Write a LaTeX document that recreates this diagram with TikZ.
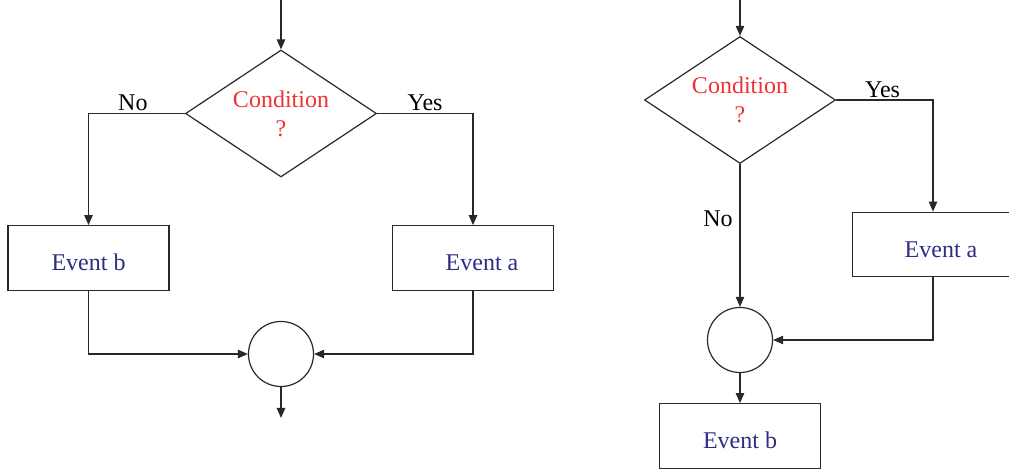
\documentclass[tikz,border=0pt]{standalone}
\usepackage{fontspec}
\setmainfont{Liberation Serif}
\usetikzlibrary{shapes.geometric, arrows.meta}
\definecolor{condred}{RGB}{238,50,50}
\definecolor{eventblue}{RGB}{45,45,135}
\definecolor{linegray}{RGB}{40,40,40}
\tikzset{
  flow/.style={draw=linegray, line width=0.6pt, -{Triangle[length=5pt,width=4.2pt]}},
  condbox/.style={diamond, draw=linegray, line width=0.6pt, inner sep=0pt, aspect=1.5,
    minimum width=95.5pt, minimum height=63.5pt, align=center, text=condred,
    font=\fontsize{12}{14.5}\selectfont},
  eventbox/.style={rectangle, draw=linegray, line width=0.6pt, minimum width=80.5pt,
    minimum height=32.3pt, text height=13pt, text depth=0pt, text=eventblue,
    font=\fontsize{12}{14.5}\selectfont},
  joincirc/.style={circle, draw=linegray, line width=0.6pt, minimum size=32.5pt, inner sep=0pt},
  answer/.style={font=\fontsize{12}{14.5}\selectfont, text=black}
}
\begin{document}
\begin{tikzpicture}[x=0.5pt,y=-0.5pt]
\useasboundingbox (0,0) rectangle (1009,470);
\coordinate (in1) at (281,0);
\coordinate (out1) at (281,418);
\node[condbox] (cond1) at (281,113.5) {Condition\\?};
\node[eventbox] (eb1) at (88.5,258) {Event b};
\node[eventbox] (ea1) at (473,258) {\hspace{9pt}Event a};
\node[joincirc] (join1) at (281,354) {};
\draw[flow] (in1) -- (cond1.north);
\draw[flow] (cond1.west) -| node[answer, above, inner sep=1pt, pos=.27] (no1) {No} (eb1.north);
\draw[flow] (cond1.east) -| node[answer, above, inner sep=1pt, pos=.25] (yes1) {Yes} (ea1.north);
\draw[flow] (eb1.south) |- (join1.west);
\draw[flow] (ea1.south) |- (join1.east);
\draw[flow] (join1.south) -- (out1);
\coordinate (in2) at (740,0);
\node[condbox] (cond2) at (740,100) {Condition\\?};
\node[eventbox] (ea2) at (933,244.5) {\hspace{8pt}Event a};
\node[joincirc] (join2) at (740,340) {};
\node[eventbox] (eb2) at (740,436) {Event b};
\draw[flow] (in2) -- (cond2.north);
\draw[flow] (cond2.east) -| node[answer, above, inner sep=1pt, pos=.24] (yes2) {Yes} (ea2.north);
\draw[flow] (cond2.south) -- node[answer, left, pos=.38] (no2) {No} (join2.north);
\draw[flow] (ea2.south) |- (join2.east);
\draw[flow] (join2.south) -- (eb2.north);
\end{tikzpicture}
\end{document}
